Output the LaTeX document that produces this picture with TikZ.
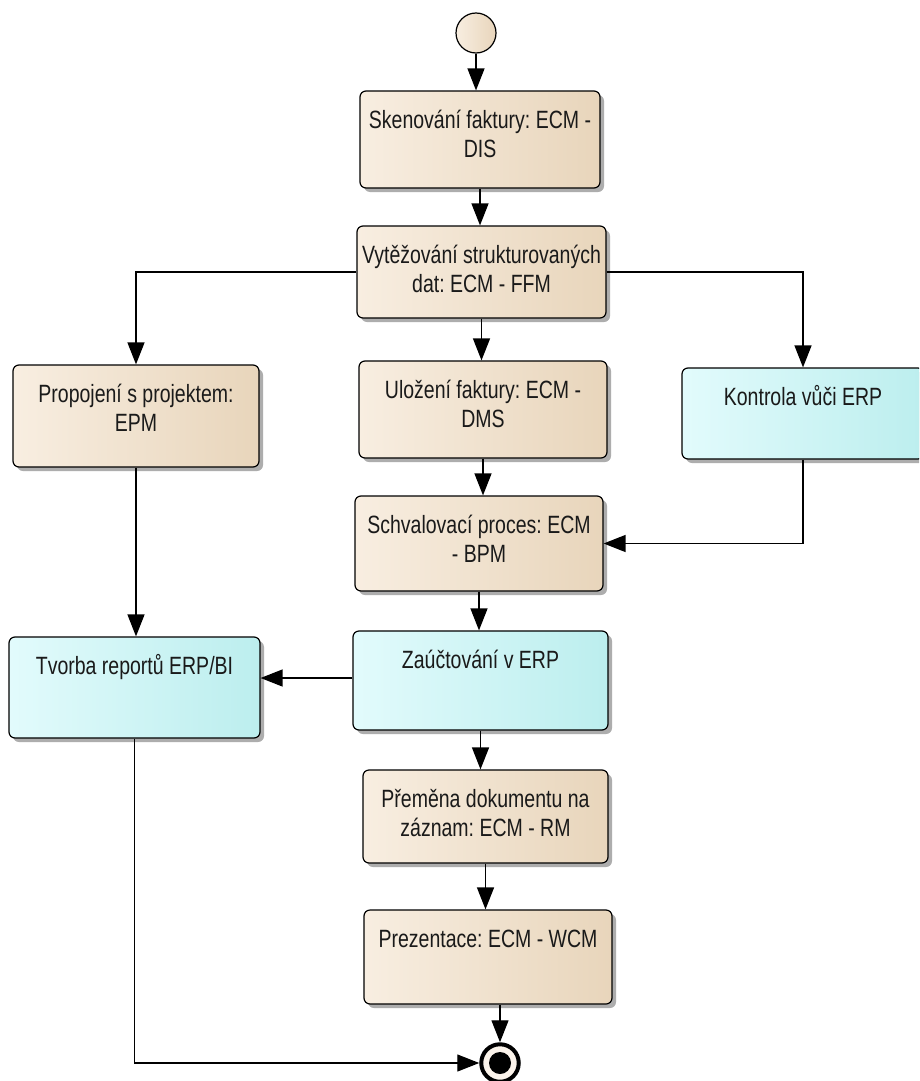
\documentclass[tikz,border=0pt]{standalone}
\usepackage{fontspec}
\setmainfont[FakeStretch=0.78]{Liberation Sans}
\usetikzlibrary{arrows.meta,shadows}

\definecolor{beigeL}{HTML}{F8EEE1}
\definecolor{beigeM}{HTML}{FBF3EA}
\definecolor{beigeR}{HTML}{E8D5BB}
\definecolor{cyanL}{HTML}{E2FBFC}
\definecolor{cyanM}{HTML}{E8FDFE}
\definecolor{cyanR}{HTML}{BCEEEE}
\definecolor{inkc}{HTML}{1A1A1A}

% box body: width, height, text set from the top edge
\newcommand\boxbody[3]{\parbox[c][#2pt][t]{#1pt}{\frenchspacing\centering\rule{0pt}{37pt}#3}}

\begin{document}
\begin{tikzpicture}[x=1pt,y=-1pt,
  actbase/.style={draw=black, line width=1.2pt, rounded corners=6pt, inner sep=0pt,
    text=inkc, font=\fontsize{25pt}{29pt}\selectfont,
    drop shadow={shadow xshift=4pt, shadow yshift=-4pt, fill=black!32, opacity=1}},
  beigebox/.style={actbase, left color=beigeL, middle color=beigeM, right color=beigeR},
  cyanbox/.style={actbase, left color=cyanL, middle color=cyanM, right color=cyanR},
  flow/.style={draw=black, line width=1.3pt, -{Triangle[length=22pt,width=17pt]}},
]
\clip (0,0) rectangle (919,1081);
\fill[white] (0,0) rectangle (919,1081);

% initial and final states
\node (start) [circle, draw=black, line width=1.2pt, minimum size=40pt, inner sep=0pt,
  left color=beigeL, middle color=beigeM, right color=beigeR] at (476,33) {};
\node (end) [circle, draw=black, line width=4pt, minimum size=37.5pt, inner sep=0pt,
  fill=beigeM] at (500,1063) {};
\fill[black] (end.center) circle[radius=11pt];

% actions
\node (sken) [beigebox] at (480,139.5)
  {\boxbody{240}{97}{Skenování faktury: ECM -\\DIS}};
\node (vyt) [beigebox] at (481.5,272)
  {\boxbody{249}{92}{Vytěžování strukturovaných\\dat: ECM - FFM}};
\node (prop) [beigebox] at (136,416)
  {\boxbody{246}{102}{Propojení s projektem:\\EPM}};
\node (ulo) [beigebox] at (483,409.5)
  {\boxbody{248}{97}{Uložení faktury: ECM -\\DMS}};
\node (kon) [cyanbox] at (803,413.5)
  {\boxbody{242}{91}{Kontrola vůči ERP}};
\node (schv) [beigebox] at (479,543.5)
  {\boxbody{248}{95}{Schvalovací proces: ECM\\- BPM}};
\node (tvor) [cyanbox] at (134.5,687.5)
  {\boxbody{251}{101}{Tvorba reportů ERP/BI}};
\node (zau) [cyanbox] at (480.5,680.5)
  {\boxbody{255}{99}{Zaúčtování v ERP}};
\node (prem) [beigebox] at (485.5,816.5)
  {\boxbody{245}{93}{Přeměna dokumentu na\\záznam: ECM - RM}};
\node (prez) [beigebox] at (488,957)
  {\boxbody{248}{94}{Prezentace: ECM - WCM}};

% control flows
\draw[flow] (start) -- (start |- sken.north);
\draw[flow] (sken.south) -- (sken.south |- vyt.north);
\draw[flow] (vyt.west) -| (prop.north);
\draw[flow] (vyt.east) -| (kon.north);
\draw[flow] (vyt.south) -- (vyt.south |- ulo.north);
\draw[flow] (ulo.south) -- (ulo.south |- schv.north);
\draw[flow] (kon.south) |- (schv.east);
\draw[flow] (schv.south) -- (schv.south |- zau.north);
\draw[flow] (prop.south) -- (prop.south |- tvor.north);
\draw[flow] ([yshift=2.5pt]zau.west) -- ([yshift=2.5pt]zau.west -| tvor.east);
\draw[flow] (zau.south) -- (zau.south |- prem.north);
\draw[flow] (prem.south) -- (prem.south |- prez.north);
\draw[flow] (end |- prez.south) -- (end);
\draw[flow] (tvor.south) |- (end.west);
\end{tikzpicture}
\end{document}
